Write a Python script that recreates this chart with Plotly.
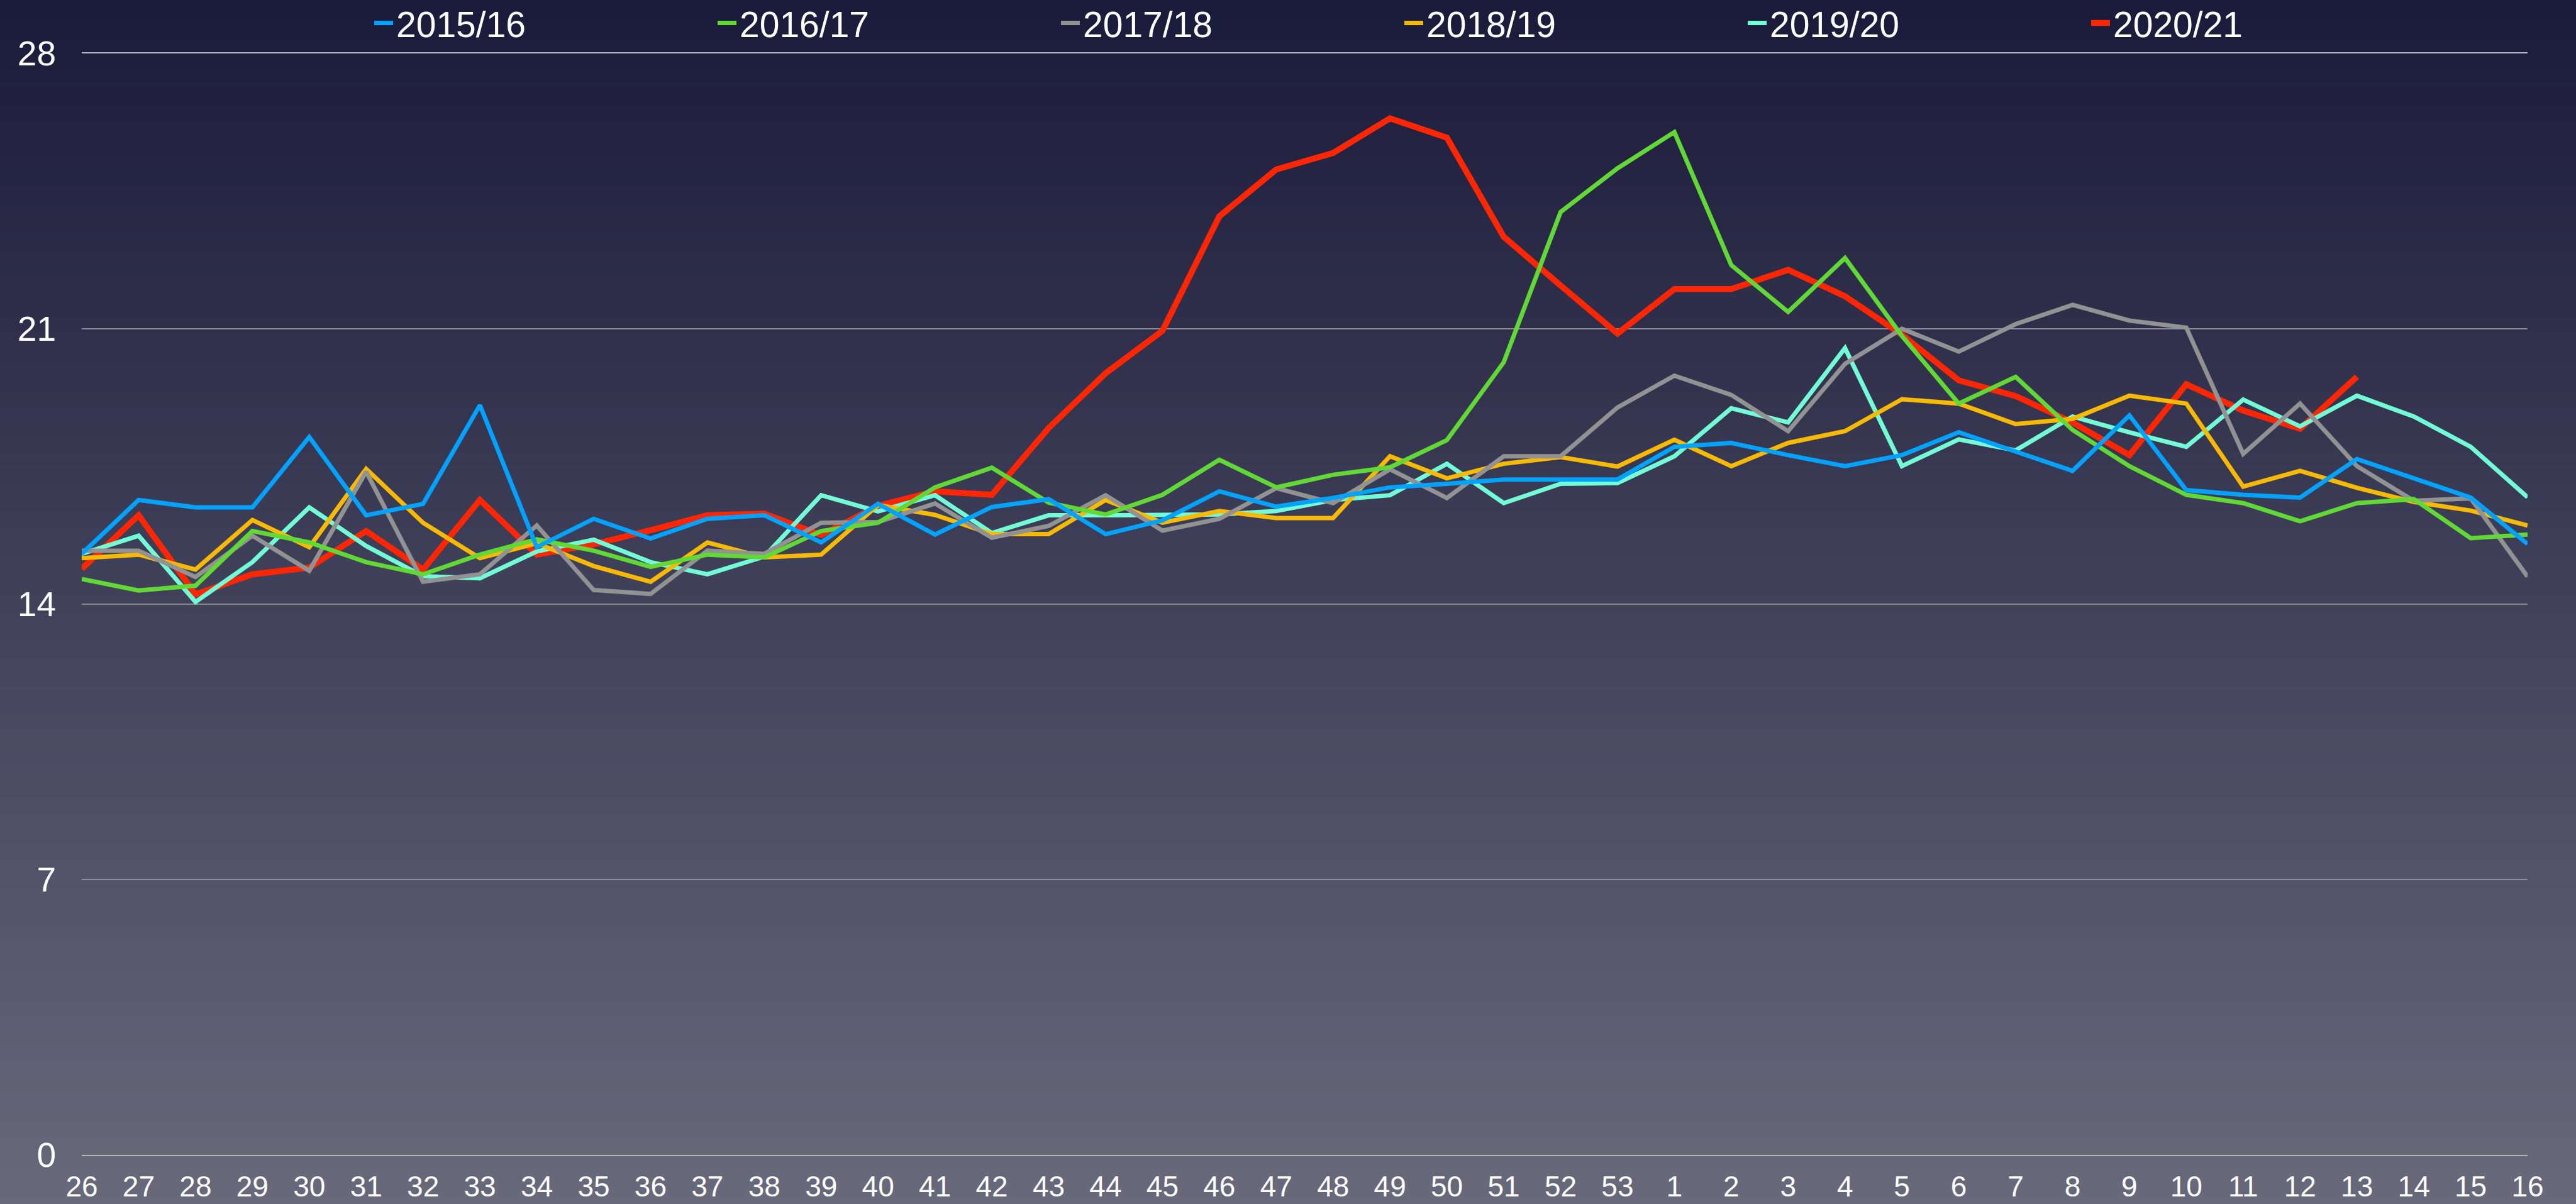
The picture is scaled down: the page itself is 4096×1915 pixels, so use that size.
import plotly.graph_objects as go

# ---- data ----
weeks = ["26", "27", "28", "29", "30", "31", "32", "33", "34", "35", "36", "37", "38", "39",
         "40", "41", "42", "43", "44", "45", "46", "47", "48", "49", "50", "51", "52", "53",
         "1", "2", "3", "4", "5", "6", "7", "8", "9", "10", "11", "12", "13", "14", "15", "16"]

s2015_16 = [15.28, 16.65, 16.46, 16.46, 18.25, 16.26, 16.55, 19.06, 15.45, 16.17, 15.67,
            16.17, 16.26, 15.57, 16.55, 15.77, 16.47, 16.67, 15.78, 16.13, 16.87, 16.48,
            16.70, 16.97, 17.06, 17.17, 17.17, 17.17, 18.00, 18.10, 17.79, 17.51, 17.79,
            18.37, 17.88, 17.39, 18.80, 16.90, 16.78, 16.71, 17.69, 17.21, 16.71, 15.53]

s2016_17 = [14.64, 14.35, 14.47, 15.86, 15.57, 15.07, 14.76, 15.26, 15.65, 15.36, 14.95,
            15.26, 15.19, 15.86, 16.07, 16.97, 17.47, 16.58, 16.28, 16.78, 17.67, 16.97,
            17.29, 17.48, 18.17, 20.15, 23.97, 25.08, 26.00, 22.62, 21.43, 22.80, 20.82,
            19.10, 19.78, 18.43, 17.51, 16.78, 16.57, 16.11, 16.57, 16.67, 15.68, 15.77]

s2017_18 = [15.36, 15.36, 14.69, 15.74, 14.85, 17.37, 14.57, 14.76, 16.00, 14.36, 14.26,
            15.36, 15.28, 16.07, 16.09, 16.56, 15.69, 15.99, 16.77, 15.87, 16.17, 16.95,
            16.57, 17.43, 16.70, 17.76, 17.76, 19.00, 19.81, 19.32, 18.40, 20.11, 21.00,
            20.42, 21.12, 21.61, 21.21, 21.03, 17.82, 19.10, 17.51, 16.63, 16.69, 14.70]

s2018_19 = [15.17, 15.26, 14.88, 16.14, 15.45, 17.44, 16.07, 15.17, 15.55, 14.97, 14.57,
            15.57, 15.19, 15.26, 16.52, 16.27, 15.78, 15.78, 16.65, 16.07, 16.37, 16.19,
            16.19, 17.76, 17.20, 17.57, 17.74, 17.50, 18.18, 17.51, 18.10, 18.40, 19.21,
            19.10, 18.58, 18.71, 19.30, 19.10, 16.99, 17.39, 16.96, 16.60, 16.38, 16.00]

s2019_20 = [15.28, 15.74, 14.06, 15.07, 16.46, 15.48, 14.71, 14.66, 15.34, 15.64, 15.07,
            14.76, 15.21, 16.77, 16.36, 16.77, 15.81, 16.26, 16.26, 16.26, 16.28, 16.37,
            16.65, 16.77, 17.57, 16.57, 17.06, 17.08, 17.76, 18.98, 18.62, 20.51, 17.51,
            18.19, 17.91, 18.77, 18.37, 18.00, 19.20, 18.52, 19.30, 18.77, 18.00, 16.72]

s2020_21 = [14.90, 16.26, 14.25, 14.76, 14.93, 15.86, 14.88, 16.65, 15.26, 15.52, 15.88,
            16.26, 16.30, 15.76, 16.50, 16.87, 16.78, 18.48, 19.87, 20.95, 23.86, 25.05,
            25.47, 26.35, 25.86, 23.34, 22.10, 20.88, 22.01, 22.01, 22.50, 21.83, 20.85,
            19.69, 19.29, 18.62, 17.79, 19.59, 18.92, 18.46, 19.78]

y_ticks = [0, 7, 14, 21, 28]

# ---- figure ----
W, H = 4096, 1915
FONT = "Liberation Sans, Arial, Helvetica, sans-serif"

series = [  # drawn bottom-to-top
    ("2020/21", s2020_21, "#FF2600", 9.5),
    ("2019/20", s2019_20, "#73FDD6", 7.0),
    ("2018/19", s2018_19, "#F8BA00", 7.0),
    ("2017/18", s2017_18, "#929292", 7.0),
    ("2016/17", s2016_17, "#61D836", 7.0),
    ("2015/16", s2015_16, "#00A2FF", 7.0),
]

fig = go.Figure()
for name, vals, color, lw in series:
    fig.add_trace(go.Scatter(
        x=weeks[:len(vals)], y=vals, name=name, mode="lines",
        line=dict(color=color, width=lw), hoverinfo="skip",
    ))

# vertical background gradient via thin bands
top = (26, 26, 58)
bot = (104, 105, 122)
n = 160
ml, mr, mt, mb = 130, 77, 85, 78
pw, ph = W - ml - mr, H - mt - mb
shapes = []
for k in range(n):
    t = (k + 0.5) / n
    c = tuple(round(top[j] + (bot[j] - top[j]) * t) for j in range(3))
    y_top_px = H * k / n - (1 if k == 0 else 0)
    y_bot_px = H * (k + 1) / n + (1 if k < n - 1 else 2)
    y0 = (H - mb - y_bot_px) / ph
    y1 = (H - mb - y_top_px) / ph
    shapes.append(dict(type="rect", xref="paper", yref="paper",
                       x0=-ml / pw - 0.01, x1=1 + mr / pw + 0.01, y0=y0, y1=y1,
                       fillcolor="rgb(%d,%d,%d)" % c, line=dict(width=0), layer="below"))

fig.update_layout(
    width=W, height=H,
    margin=dict(l=ml, r=mr, t=mt, b=mb, pad=0, autoexpand=False),
    paper_bgcolor="rgb(65,65,90)",
    plot_bgcolor="rgba(0,0,0,0)",
    shapes=shapes,
    font=dict(family=FONT, color="white"),
    showlegend=True,
    legend=dict(
        orientation="h", traceorder="reversed",
        xref="container", yref="container",
        x=590 / W, xanchor="left", y=1 - 37 / H, yanchor="middle",
        entrywidth=501, entrywidthmode="pixels",
        bgcolor="rgba(0,0,0,0)",
        font=dict(family=FONT, size=57, color="white"),
    ),
    xaxis=dict(
        type="category", categoryorder="array", categoryarray=weeks,
        range=[0, len(weeks) - 1],
        tickmode="array", tickvals=weeks, ticktext=weeks,
        showgrid=False, zeroline=False,
        showline=True, mirror=True, linecolor="#b6b6b9", linewidth=2.2,
        ticks="", ticklabelstandoff=9,
        tickfont=dict(family=FONT, size=46, color="white"),
    ),
    yaxis=dict(
        range=[0, 28], tickmode="array", tickvals=y_ticks,
        showgrid=True, gridcolor="rgba(165,165,175,0.75)", gridwidth=1.8,
        zeroline=False, showline=False, ticks="", ticklabelstandoff=40,
        tickfont=dict(family=FONT, size=55, color="white"),
    ),
)

fig.write_html("out.html", config={"displayModeBar": False},
               post_script="document.body.style.margin='0';document.body.style.overflow='hidden';")
